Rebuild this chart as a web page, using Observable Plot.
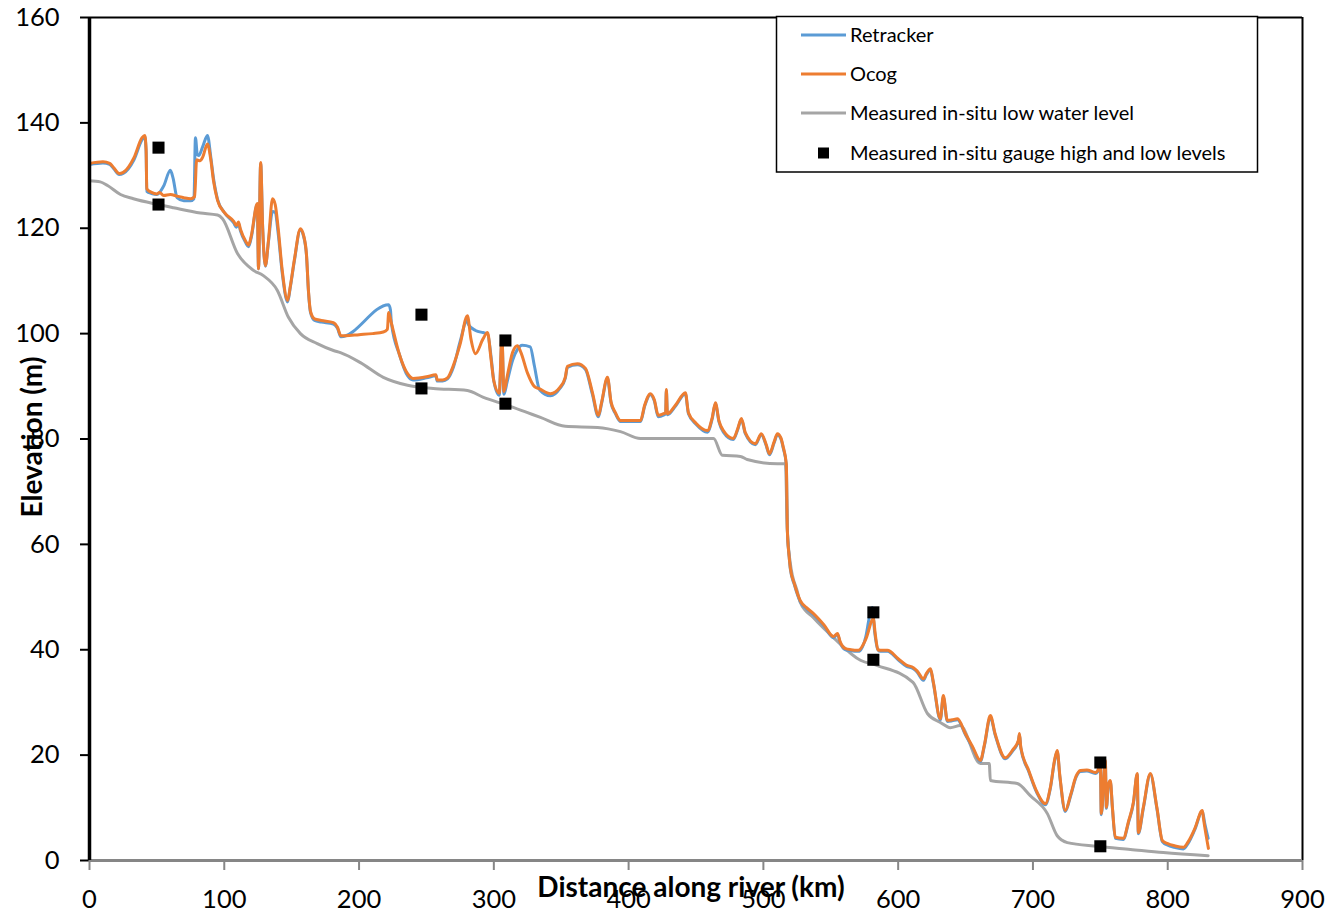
<!DOCTYPE html>
<html>
<head>
<meta charset="utf-8">
<script src="https://cdn.jsdelivr.net/npm/d3@7"></script>
<script src="https://cdn.jsdelivr.net/npm/@observablehq/plot@0.6"></script>
<style>
  html, body { margin: 0; padding: 0; background: white; }
  #chart { width: 1331px; height: 916px; }
</style>
</head>
<body>
<div id="chart"></div>
<script>
// ---- Data ----
const xTicks = [0, 100, 200, 300, 400, 500, 600, 700, 800, 900];
const yTicks = [0, 20, 40, 60, 80, 100, 120, 140, 160];

const seriesNames = ["Retracker", "Ocog", "Measured in-situ low water level", "Measured in-situ gauge high and low levels"];

const ocogKm = [0,10,15,18,22,25,33,39,41,42,42.5,46,50,52,55,60,65,70,75,78,79.5,82,84,87.5,90,92,95,100,107,109,110.5,112,116,118,120,124.5,125.4,127,128.5,130.5,132.8,135.8,137.8,140,143,147,149,152,156.5,159,161,162.5,164,167,172,181,184,186.5,190,200,210,218,221,222,224,230,236,240,250,257,258,262,265.6,270,275,280.4,283,286.4,292,295.3,298,300,304,306,307.5,310,314,317.5,320,325,330,334,342,349,353,354.6,362,368,373,377.6,380,384.3,387,390.2,394,408.8,412,416.2,419,422,425.8,427.5,428,428.8,435,442.1,444.4,450,458.5,462,464.4,467,470.3,477.7,481,483.7,486.6,494,498.5,502,504.5,508,510.4,513,514.8,517,517.8,519,520,523,527.4,532,537,545,552,555,557,561,565,570.5,576,581.6,583,585,586.8,592,600,606,611.3,614,618.7,621,624,626,631.3,633.5,636.5,640,644,650,655,661,664,668.4,672,679.5,685,689.2,690,691,697,703,709.2,713,716,718,720,724,728,732,735.2,740,746.3,748,750,750.7,753.7,754.5,756,757.4,759,761.1,767,771,774.5,777.4,778.2,781.9,787.1,792,796,800,805,811.6,815,820,825.7,826.5,830.2];
const ocogM = [132.3,132.6,132.3,131.5,130.4,130.6,133.4,137.2,137.6,135,127.5,126.8,126.5,126.8,126.2,126.4,126.1,125.8,125.6,126,133,132.8,133.5,136,133,129,125.3,123,121.3,120.5,121.2,119.8,117.5,116.8,118.5,124.7,112.3,132.5,120,112.9,117.7,125.6,124.5,120,112,106.3,109,114,119.9,118.5,115,108,104.2,102.8,102.5,102.1,101.2,99.6,99.6,99.8,100,100.3,100.8,104,102,96,92.4,91.5,91.8,92.2,91.2,91.2,91.6,94,98,103.4,99,96.2,99,100.2,95,91,88.7,99.5,89,92,96.5,97.7,96.5,92.5,90,89.5,88.6,89.8,91.7,93.8,94.3,93.4,89,84.5,87,91.7,87,85,83.5,83.5,86.5,88.6,87.5,84.5,84.8,85,89.4,84.8,86.5,88.8,85,83,81.6,84,86.9,83.5,81.6,80.1,82,83.9,81.2,79.1,81,79,77.2,79.5,81,80.2,78.4,75.3,62.6,58,55.5,52.5,49.3,48,46.9,44.7,42.5,43.1,41.5,40.2,40,39.9,42,45.9,43,40,39.9,39.9,38.3,37.1,36.6,36,34.5,35.5,36.4,34,26.9,31.3,26.6,26.7,26.9,24,21.7,19,22,27.5,24,19.5,21,22.8,24.1,21.5,17,13,10.8,14,19,20.9,16,9.5,12.5,16,17.1,17.2,16.7,17,19,8.9,19,10.1,14.5,15.2,10,4.4,4.2,7.5,11,16.5,5.3,10.1,16.5,10,3.8,3.2,2.8,2.5,3.5,6,9.5,8,2.3];

const retrackerKm = [0,10,15,18,22,25,33,39,41,42,42.5,46,50,55,60,62,65,70,75,77.5,78.6,80,81,84,87.5,90,92,95,100,107,109,110.5,112,116,118,120,124.5,125.4,127,128.5,130.5,132.8,135.8,137.8,140,143,147,149,152,156.5,159,161,162.5,164,167,172,181,184,186.5,222,223.3,224,230,236,240,250,257,258,262,265.6,270,275,280,281,286.4,292,295.3,298,300,304,306,307.5,310,314,317.5,321,327,330,334,342,349,353,354.6,362,368,373,377.6,380,384.3,387,390.2,394,408.8,412,416.2,419,422,425.8,427.5,428,428.8,435,442.1,444.4,450,458.5,462,464.4,467,470.3,477.7,481,483.7,486.6,494,498.5,502,504.5,508,510.4,513,514.8,517,517.8,519,520,523,527.4,532,537,545,552,555,557,561,565,570.5,576,578.5,580.8,582.5,585,586.8,592,600,606,611.3,614,618.7,621,624,626,631.3,633.5,636.5,640,644,650,655,661,664,668.4,672,679.5,685,689.2,690,691,697,703,709.2,713,716,718,720,724,728,732,735.2,740,746.3,748,750,750.7,753.7,754.5,756,757.4,759,761.1,767,771,774.5,777.4,778.2,781.9,787.1,792,796,800,805,811.6,815,820,825.7,827.5,830];
const retrackerM = [132.1,132.4,132.1,131.3,130.2,130.4,133,136.8,137.4,134.5,127,126.6,126.4,128,131,129.5,125.8,125.2,125.2,125.6,137.2,134,133.8,135.5,137.6,133.5,129.5,125.5,123,121,120.2,121,119.5,117.2,116.5,118.2,124.5,112.3,132.3,120,112.8,117.5,123.2,123,119,111.5,106,108.8,113.8,119.7,118.3,114.8,107.8,104,102.5,102.2,101.8,101,99.4,105.5,104.5,102,96,92,91.2,91.6,92,91,91,91.4,93.6,98.5,102.5,101.8,100.6,100.2,100,95.5,91,88.3,99,88.5,91,95,97,97.8,97.5,94,89.3,88.2,89.6,91.5,93.6,94.1,93.2,88.6,84.2,86.8,91.5,86.8,84.8,83.3,83.3,86.3,88.4,87.3,84.2,84.5,84.8,89.2,84.6,86.3,88.6,84.8,82.8,81.3,83.8,86.7,83.3,81.3,79.9,81.8,83.7,81,78.9,80.8,78.8,77,79.3,80.8,80,78.2,75.1,62.6,58,55.3,52.3,49.1,47.8,46.7,44.5,42.3,42.9,41.3,40,39.8,39.7,42.5,46,48,43.5,40,39.7,39.7,38.1,36.9,36.4,35.8,34.2,35.3,36.2,33.8,26.7,31,26.4,26.5,26.7,23.8,21.5,18.8,21.8,27.2,23.8,19.3,20.8,22.6,23.9,21.3,16.8,12.8,10.6,13.8,18.8,20.7,15.8,9.3,12.3,15.8,16.9,17,16.5,16.8,18.8,8.7,18.8,9.9,14.3,15,9.8,4.2,4,7.3,10.8,16.3,5.1,9.9,16.3,9.8,3.6,2.9,2.5,2.2,3.2,5.8,9.3,7,4.2];

const lowKm = [0,8,13.4,23,32.6,51,62.3,82.3,95,98.7,109.8,121.7,129,139.4,147.6,156.5,169,181,186.2,201,218,236,255,280.4,292.3,310,325,334.6,353,377,394,408.8,463,469.6,483,488,510.4,516.3,517.8,520,525,527.4,537,552,572,584.6,611,621.7,631.3,638.7,646,661,667.6,668.4,688.4,698,710.7,718,725.5,747.8,772.3,796.7,830];
const lowM = [129,128.8,128.1,126.4,125.6,124.5,123.9,122.9,122.5,121.8,115.2,112,111,108.2,103.1,100,98.1,96.8,96.4,94.5,91.7,90.2,89.6,89.2,87.9,86.4,85,84.1,82.4,82.2,81.4,80.1,80.1,76.9,76.7,76.1,75.3,75.3,62.6,56.4,51.2,49,46.1,42.3,38,37,33.8,27.9,26.2,25.2,25.6,18.4,18.4,15.2,14.6,12.3,8.9,4.7,3.4,2.7,2.1,1.5,0.9];

const gaugeKm = [51.2, 51.2, 246.3, 246.3, 308.6, 308.6, 581.6, 581.6, 750, 750];
const gaugeM = [135.3, 124.5, 103.6, 89.6, 98.7, 86.7, 47.1, 38.1, 18.6, 2.7];

const colors = ["#5B9BD5", "#ED7D31", "#A5A5A5", "#000000"];

// ---- Tables built from the arrays ----
const toRows = (xs, ys) => xs.map((x, i) => ({x, y: ys[i]}));
const retracker = toRows(retrackerKm, retrackerM);
const ocog = toRows(ocogKm, ocogM);
const low = toRows(lowKm, lowM);
const gauge = toRows(gaugeKm, gaugeM);

const FONT = "Lato, 'Open Sans', sans-serif";

const plot = Plot.plot({
  width: 1331,
  height: 916,
  marginLeft: 89,
  marginRight: 29,
  marginTop: 17,
  marginBottom: 56,
  style: {fontFamily: FONT, fontSize: "25px", color: "black", background: "white", overflow: "visible"},
  x: {domain: [0, 900]},
  y: {domain: [0, 160]},
  marks: [
    Plot.axisY({ticks: yTicks, tickSize: 9, tickPadding: 21, stroke: "black", strokeWidth: 2, fontSize: 25.5, label: null, tickFormat: d => String(d)}),
    Plot.axisX({ticks: xTicks, tickSize: 10, tickPadding: 19, stroke: "#868686", strokeWidth: 2, fontSize: 25.5, label: null, tickFormat: d => String(d)}),
    Plot.ruleY([160], {stroke: "black", strokeWidth: 2}),
    Plot.ruleX([900], {stroke: "black", strokeWidth: 2}),
    Plot.line(low, {x: "x", y: "y", stroke: colors[2], strokeWidth: 3, curve: "monotone-x"}),
    Plot.line(retracker, {x: "x", y: "y", stroke: colors[0], strokeWidth: 3, curve: "monotone-x"}),
    Plot.line(ocog, {x: "x", y: "y", stroke: colors[1], strokeWidth: 3, curve: "monotone-x"}),
    Plot.ruleY([0], {stroke: "#868686", strokeWidth: 3}),
    Plot.ruleX([0], {stroke: "black", strokeWidth: 3.5}),
    Plot.dot(gauge, {x: "x", y: "y", symbol: "square", r: 6.8, fill: "black", stroke: "none"})
  ]
});

const svg = d3.select(plot);

// Axis titles
svg.append("text")
  .attr("x", 691).attr("y", 897)
  .attr("text-anchor", "middle")
  .attr("font-family", FONT).attr("font-weight", "bold").attr("font-size", 28)
  .attr("fill", "black")
  .text("Distance along river (km)");

svg.append("text")
  .attr("transform", "translate(42,437) rotate(-90)")
  .attr("text-anchor", "middle")
  .attr("font-family", FONT).attr("font-weight", "bold").attr("font-size", 28)
  .attr("fill", "black")
  .text("Elevation (m)");

// Legend
const lg = svg.append("g");
lg.append("rect").attr("x", 776.5).attr("y", 16.5).attr("width", 481).attr("height", 155.5)
  .attr("fill", "white").attr("stroke", "black").attr("stroke-width", 1.5);
const rowsY = [35, 74, 113, 153];
seriesNames.forEach((name, i) => {
  const y = rowsY[i];
  if (i < 3) {
    lg.append("line").attr("x1", 801).attr("x2", 846).attr("y1", y).attr("y2", y)
      .attr("stroke", colors[i]).attr("stroke-width", 3);
  } else {
    lg.append("rect").attr("x", 818).attr("y", y - 5.5).attr("width", 11).attr("height", 11).attr("fill", colors[i]);
  }
  lg.append("text").attr("x", 850).attr("y", y).attr("dy", "0.35em")
    .attr("text-anchor", "start")
    .attr("font-family", FONT).attr("font-size", 20).attr("fill", "black")
    .text(name);
});

document.getElementById("chart").appendChild(plot);
</script>
</body>
</html>
